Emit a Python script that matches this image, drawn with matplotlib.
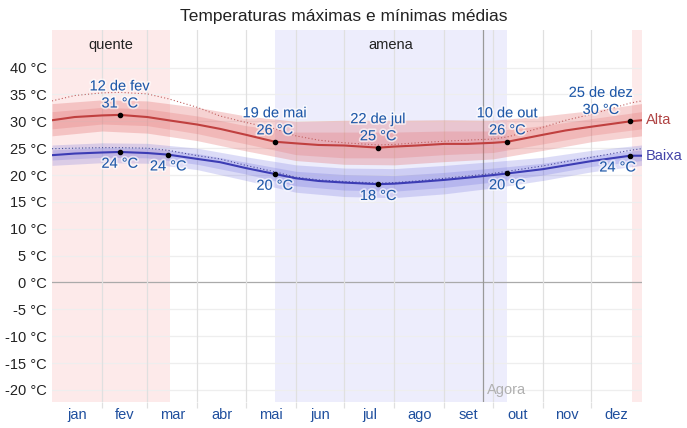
import matplotlib.pyplot as plt
import matplotlib.patheffects as pe

plt.rcParams['font.family'] = ['Liberation Sans', 'DejaVu Sans']

# Dados (dia do ano, °C)
days = [0, 14, 31, 42, 59, 72, 90, 104, 120, 138, 151, 165, 181,
        202, 212, 226, 243, 257, 273, 282, 304, 318, 334, 358, 365]
alta = [30.2, 30.8, 31.1, 31.2, 30.8, 30.2, 29.4, 28.6, 27.5, 26.2, 25.9, 25.6, 25.5,
        25.1, 25.3, 25.5, 25.8, 25.8, 26.0, 26.2, 27.5, 28.3, 29.0, 30.0, 30.2]
baixa = [23.7, 24.0, 24.2, 24.3, 24.1, 23.8, 23.0, 22.4, 21.3, 20.2, 19.4, 18.9, 18.6,
         18.3, 18.4, 18.7, 19.1, 19.5, 20.0, 20.3, 21.1, 21.8, 22.6, 23.6, 23.6]
alta_sens = [33.8, 34.8, 35.3, 35.4, 35.1, 34.2, 32.6, 31.0, 29.8, 28.6, 27.3, 26.5, 26.0,
             25.6, 25.7, 26.0, 26.3, 26.5, 26.7, 27.1, 28.9, 30.2, 31.3, 33.4, 33.8]
baixa_sens = [24.9, 25.0, 25.1, 25.1, 25.0, 24.6, 23.6, 23.0, 21.8, 20.6, 19.6, 19.1, 18.8,
              18.5, 18.6, 18.9, 19.4, 19.8, 20.3, 20.7, 21.7, 22.5, 23.3, 24.6, 24.9]

# faixas percentis (início de cada mês)
band_days = [0, 31, 59, 90, 120, 151, 181, 212, 243, 273, 304, 334, 365]
alta_p90 = [33.3, 34.0, 33.8, 32.6, 31.0, 30.0, 30.2, 30.2, 30.3, 30.2, 31.0, 32.0, 33.3]
alta_p75 = [31.8, 32.6, 32.3, 31.0, 29.2, 28.0, 28.0, 28.0, 28.2, 28.2, 29.2, 30.5, 31.8]
alta_p25 = [28.6, 29.5, 29.2, 27.7, 25.8, 23.8, 23.2, 23.2, 23.8, 24.2, 25.8, 27.4, 28.6]
alta_p10 = [27.3, 28.2, 27.8, 26.4, 24.5, 22.7, 22.0, 21.9, 22.5, 23.0, 24.6, 26.2, 27.3]
baixa_p90 = [25.6, 26.0, 25.9, 25.0, 23.4, 21.9, 21.3, 21.2, 21.8, 22.5, 23.3, 24.6, 25.6]
baixa_p75 = [24.7, 25.1, 25.0, 24.0, 22.4, 20.7, 20.1, 19.9, 20.5, 21.3, 22.2, 23.6, 24.7]
baixa_p25 = [22.8, 23.3, 23.2, 22.0, 20.2, 18.0, 17.2, 17.0, 17.7, 18.7, 20.0, 21.6, 22.7]
baixa_p10 = [21.8, 22.3, 22.2, 21.0, 19.0, 16.8, 16.0, 15.8, 16.5, 17.6, 19.0, 20.6, 21.8]

meses = ['jan', 'fev', 'mar', 'abr', 'mai', 'jun', 'jul', 'ago', 'set', 'out', 'nov', 'dez']
inicio_mes = [0, 31, 59, 90, 120, 151, 181, 212, 243, 273, 304, 334, 365]

# estações
quente = [(0, 73), (359, 365)]
amena = (138, 282)
agora = 267

# anotações
alta_ann_days = [42, 138, 202, 282, 358]
alta_ann_datas = ['12 de fev', '19 de mai', '22 de jul', '10 de out', '25 de dez']
baixa_ann_days = [42, 72, 138, 202, 282, 358]

azul_txt = '#1f58a8'

fig = plt.figure(figsize=(6.87, 4.28), dpi=100)
ax = fig.add_axes([52 / 687, 1 - 402.3 / 428, 589.5 / 687, 372.3 / 428])
ax.set_xlim(0, 365)
ax.set_ylim(-22.3, 47.0)
for s in ax.spines.values():
    s.set_visible(False)

# estações
for a, b in quente:
    ax.axvspan(a, b, color='#fdeaea', lw=0, zorder=0)
ax.axvspan(*amena, color='#ededfc', lw=0, zorder=0)
ax.text((quente[0][0] + quente[0][1]) / 2, 44.2, 'quente', ha='center', va='center', fontsize=10.5, color='#222')
ax.text(sum(amena) / 2, 44.2, 'amena', ha='center', va='center', fontsize=10.5, color='#222')

# grade
for t in range(-20, 45, 5):
    ax.axhline(t, color='#aaaaaa' if t == 0 else '#eeeeee', lw=0.9, zorder=0.5)
for m in inicio_mes[1:-1]:
    ax.axvline(m, color='#e0e0e0', lw=0.9, zorder=0.5)
ax.axvline(agora, color='#999999', lw=0.9, zorder=0.6)
ax.annotate('Agora', xy=(agora, -20), xytext=(3, 0), textcoords='offset points',
            ha='left', va='center', fontsize=10.5, color='#b0b0b0')

# faixas
ax.fill_between(band_days, alta_p10, alta_p90, color='#e06060', alpha=0.28, lw=0, zorder=1)
ax.fill_between(band_days, alta_p25, alta_p75, color='#e06060', alpha=0.22, lw=0, zorder=1.1)
ax.fill_between(band_days, baixa_p10, baixa_p90, color='#6464dc', alpha=0.22, lw=0, zorder=1)
ax.fill_between(band_days, baixa_p25, baixa_p75, color='#6464dc', alpha=0.22, lw=0, zorder=1.1)

ax.plot(days, alta_sens, ls=(0, (1, 2)), color='#c06060', lw=0.8, zorder=2)
ax.plot(days, baixa_sens, ls=(0, (1, 2)), color='#4a4a9a', lw=0.8, zorder=2)
ax.plot(days, alta, color='#c0403f', lw=1.5, zorder=3)
ax.plot(days, baixa, color='#3c3cb4', lw=1.5, zorder=3)

halo = [pe.withStroke(linewidth=2.5, foreground='white', alpha=0.6)]
for d, lbl in zip(alta_ann_days, alta_ann_datas):
    v = alta[days.index(d)]
    ax.scatter(d, v, s=9, color='black', zorder=4)
    dx = -21 if d > 350 else 0
    ax.annotate(f'{round(v)} °C', xy=(d, v), xytext=(dx, 8.2), textcoords='offset points',
                ha='center', va='center', fontsize=10.5, color=azul_txt, path_effects=halo, zorder=5)
    ax.annotate(lbl, xy=(d, v), xytext=(dx, 20.5), textcoords='offset points',
                ha='center', va='center', fontsize=10.5, color=azul_txt, path_effects=halo, zorder=5)
for d in baixa_ann_days:
    v = baixa[days.index(d)]
    ax.scatter(d, v, s=9, color='black', zorder=4)
    dx = -9 if d > 350 else 0
    ax.annotate(f'{round(v)} °C', xy=(d, v), xytext=(dx, -8.5), textcoords='offset points',
                ha='center', va='center', fontsize=10.5, color=azul_txt, path_effects=halo, zorder=5)

ax.annotate('Alta', xy=(365, alta[-1]), xytext=(3, 0), textcoords='offset points',
            ha='left', va='center', fontsize=10.5, color='#b04444', annotation_clip=False)
ax.annotate('Baixa', xy=(365, baixa[-1]), xytext=(3, 0), textcoords='offset points',
            ha='left', va='center', fontsize=10.5, color='#4444a8', annotation_clip=False)

# eixos
ax.set_yticks(range(-20, 45, 5))
ax.set_yticklabels([f'{t} °C' for t in range(-20, 45, 5)], fontsize=10.5, color='#222')
ax.tick_params(axis='y', length=0, pad=4)
ax.set_xticks(inicio_mes[1:-1])
ax.set_xticklabels([])
ax.tick_params(axis='x', which='major', length=4.5, color='#e0e0e0', width=0.9)
ax.set_xticks([(inicio_mes[i] + inicio_mes[i + 1]) / 2 for i in range(12)], minor=True)
ax.set_xticklabels(meses, minor=True, fontsize=10.5, color='#1f4f9e')
ax.tick_params(axis='x', which='minor', length=0, pad=4)

fig.text(0.5, 1 - 17 / 428, 'Temperaturas máximas e mínimas médias', ha='center', va='center',
         fontsize=12.5, color='#222')

fig.savefig('out.png', dpi=100)
